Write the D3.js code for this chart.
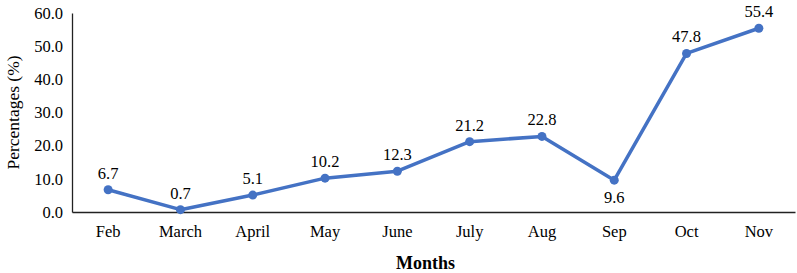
<!DOCTYPE html>
<html>
<head>
<meta charset="utf-8">
<script src="https://cdn.jsdelivr.net/npm/d3@7"></script>
<style>
  body{margin:0;background:#fff;}
  svg text{font-family:"Liberation Serif","Times New Roman",serif;fill:#000;}
</style>
</head>
<body>
<div id="chart"></div>
<script>
var months=["Feb","March","April","May","June","July","Aug","Sep","Oct","Nov"];
var percentages=[6.7,0.7,5.1,10.2,12.3,21.2,22.8,9.6,47.8,55.4];
var yTicks=[0,10,20,30,40,50,60];
var labelBelow=["Sep"];

var W=797,H=273;
var m={top:13,right:2,bottom:61,left:72};
var width=W-m.left-m.right, height=H-m.top-m.bottom;

var svg=d3.select("#chart").append("svg").attr("width",W).attr("height",H);
var g=svg.append("g").attr("transform","translate("+m.left+","+m.top+")");

var x=d3.scaleBand().domain(months).range([0,width]);
var y=d3.scaleLinear().domain([0,60]).range([height,0]);

/* axes */
var ya=g.append("g").call(d3.axisLeft(y).tickValues(yTicks).tickSize(0).tickPadding(9).tickFormat(d3.format(".1f")));
ya.select(".domain").attr("stroke","#222").attr("stroke-width",1.3);
ya.selectAll("text").style("font-size","16.5px");

var xa=g.append("g").attr("transform","translate(0,"+height+")").call(d3.axisBottom(x).tickSize(0).tickPadding(13));
xa.select(".domain").attr("stroke","#222").attr("stroke-width",1.3);
xa.selectAll("text").style("font-size","16.5px");

/* line + markers */
var line=d3.line().x(function(d,i){return x(months[i])+x.bandwidth()/2;}).y(function(d){return y(d);});
g.append("path").datum(percentages).attr("fill","none").attr("stroke","#4472C4").attr("stroke-width",3.5)
  .attr("stroke-linejoin","round").attr("d",line);
g.selectAll("circle.pt").data(percentages).enter().append("circle").attr("class","pt")
  .attr("cx",function(d,i){return x(months[i])+x.bandwidth()/2;}).attr("cy",function(d){return y(d);})
  .attr("r",4.5).attr("fill","#4472C4");

/* value labels */
g.selectAll("text.vl").data(percentages).enter().append("text").attr("class","vl")
  .attr("x",function(d,i){return x(months[i])+x.bandwidth()/2;})
  .attr("y",function(d,i){return labelBelow.indexOf(months[i])>=0 ? y(d)+23 : y(d)-11;})
  .attr("text-anchor","middle").style("font-size","16.5px")
  .text(function(d){return d.toFixed(1);});

/* titles */
svg.append("text").attr("x",m.left+width/2-8).attr("y",269).attr("text-anchor","middle")
  .style("font-size","18px").style("font-weight","bold").text("Months");
svg.append("text").attr("transform","rotate(-90)").attr("x",-(m.top+height/2)).attr("y",19)
  .attr("text-anchor","middle").style("font-size","17.5px").text("Percentages (%)");
</script>
</body>
</html>
